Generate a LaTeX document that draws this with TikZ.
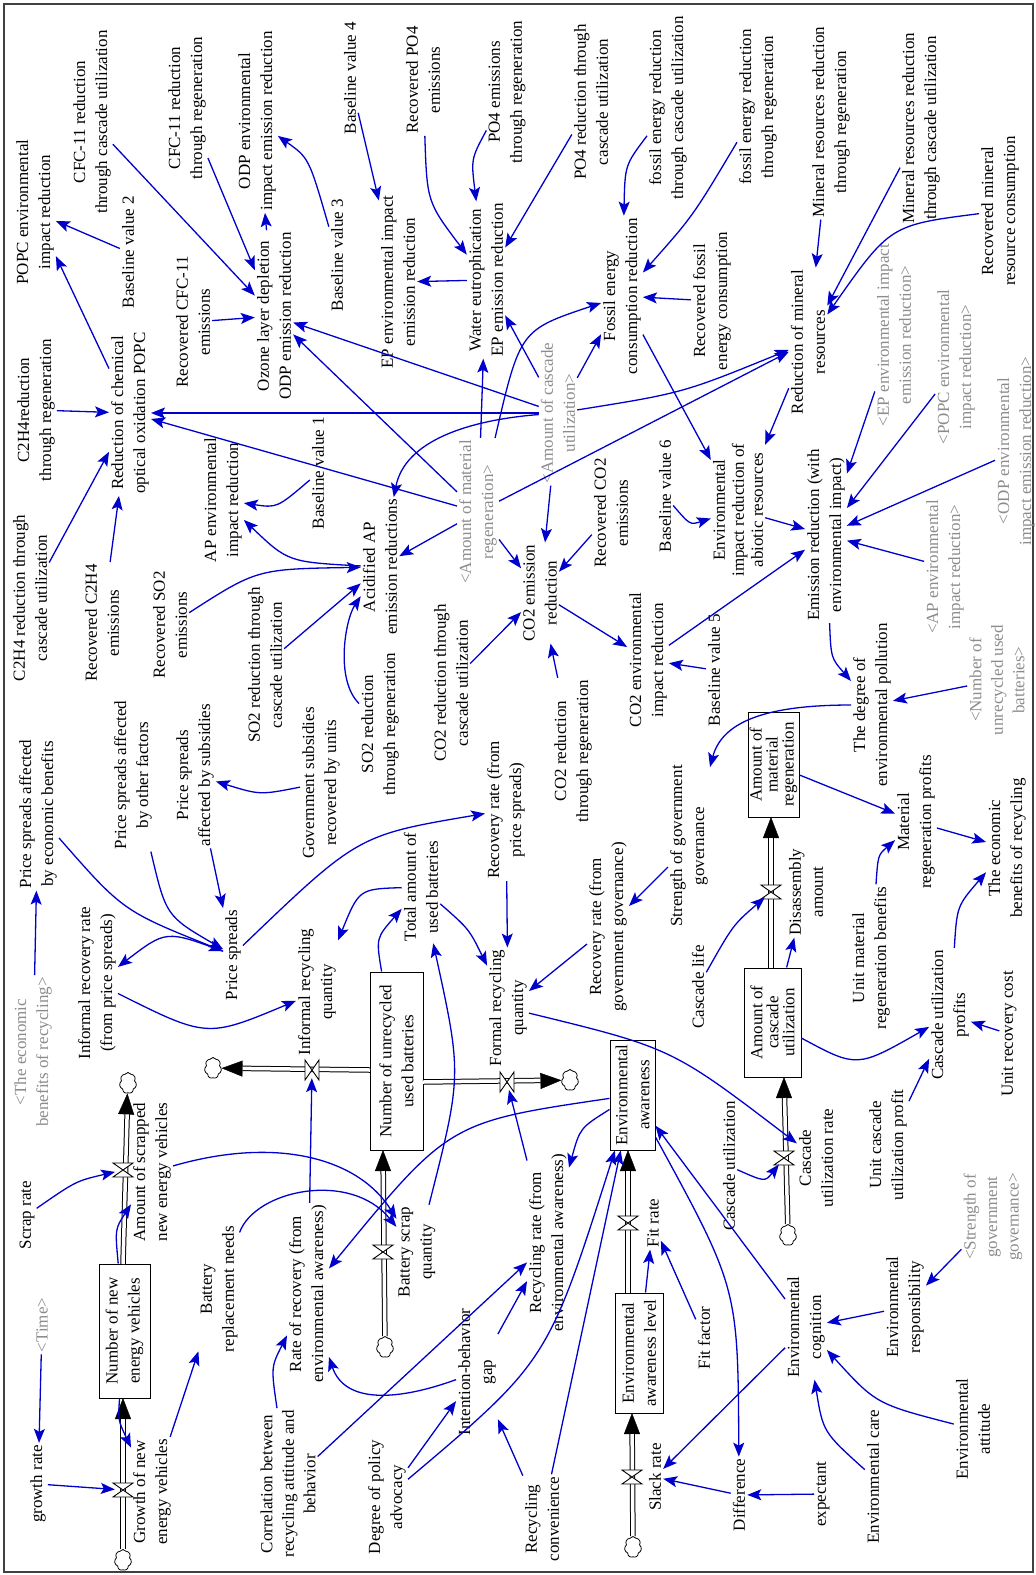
\documentclass[tikz,border=0pt]{standalone}
\usepackage{fontspec}
\setmainfont{Liberation Serif}
\usetikzlibrary{arrows.meta,shapes.symbols}
\definecolor{arrblue}{RGB}{0,0,205}
\definecolor{shadowgray}{RGB}{140,140,140}
\newcommand\fsz{\fontsize{17}{22}\selectfont}
\newcommand\fsm{\fontsize{17}{21.5}\selectfont}
\newcommand\fsa{\fontsize{17}{19}\selectfont}
\newcommand\fstk{\fontsize{17}{16}\selectfont}
\newcommand\vvalve[2]{\filldraw[fill=white,draw=black,line width=0.9pt] (#1-10,#2+7) -- (#1+10,#2+7) -- (#1-10,#2-7) -- (#1+10,#2-7) -- cycle;}
\newcommand\hvalve[2]{\filldraw[fill=white,draw=black,line width=0.9pt] (#1-7,#2+10) -- (#1+7,#2-10) -- (#1+7,#2+10) -- (#1-7,#2-10) -- cycle;}
\tikzset{
 lab/.style={rotate=90, align=center, inner sep=2pt, font=\fsz, text=black},
 shd/.style={lab, text=shadowgray},
 stock/.style={rotate=90, align=center, draw=black, line width=1pt, inner sep=1pt, font=\fsz},
 arr/.style={draw=arrblue, line width=1.3pt, -{Stealth[length=14pt,width=11pt,inset=3pt]}},
 pipeln/.style={draw=black, line width=1pt, double=white, double distance=3.5pt},
 ptip/.style={draw=black, line width=0.4pt, -{Triangle[length=21pt,width=16pt]}},
 cloudn/.style={cloud, cloud puffs=7, cloud puff arc=120, aspect=0.85, draw=black, line width=0.8pt, fill=white, minimum width=17pt, minimum height=21pt, inner sep=0pt},
 vnode/.style={circle, inner sep=0pt, minimum size=16pt}
}
\begin{document}
\begin{tikzpicture}[x=1pt,y=1pt]
\useasboundingbox (0,0) rectangle (1036,-1575);
\draw[line width=1.5pt, draw=black!75] (4,-4) rectangle (1033,-1572);

% ---------- top region ----------
\node[lab] (POPCenv) at (35,-212) {POPC environmental\\impact reduction};
\node[lab] (CFCcasc) at (92,-122) {CFC-11 reduction\\through cascade utilization};
\node[lab] (BVtwo) at (128,-252) {Baseline value 2};
\node[lab] (CFCreg) at (187,-108) {CFC-11 reduction\\through regeneration};
\node[lab] (ODPenv) at (257,-121) {ODP environmental\\impact emission reduction};
\node[lab] (BVthree) at (337,-255) {Baseline value 3};
\node[lab] (RecCFC) at (193,-322) {Recovered CFC-11\\emissions};
\node[lab] (Ozone) at (274,-316) {Ozone layer depletion\\ODP emission reduction};
\node[lab] (BVfour) at (350,-78) {Baseline value 4};
\node[lab] (RecPO) at (423,-80) {Recovered PO4\\emissions};
\node[lab] (POreg) at (507,-92) {PO4 emissions\\through regeneration};
\node[lab] (POcasc) at (591,-102) {PO4 reduction through\\cascade utilization};
\node[lab] (fosscasc) at (668,-108) {fossil energy reduction\\through cascade utilization};
\node[lab] (EPenv) at (398,-282) {EP environmental impact\\emission reduction};
\node[lab] (Water) at (486,-280) {Water eutrophication\\EP emission reduction};
\node[lab] (Fossil) at (622,-296) {Fossil energy\\consumption reduction};
\node[shd] (AC) at (558,-413) {<Amount of cascade\\utilization>};
\node[shd] (AM) at (478,-512) {<Amount of material\\regeneration>};
\node[lab] (fossreg) at (758,-107) {fossil energy reduction\\through regeneration};
\node[lab] (minreg) at (831,-122) {Mineral resources reduction\\through regeneration};
\node[lab] (mincasc) at (921,-128) {Mineral resources reduction\\through cascade utilization};
\node[lab] (recmin) at (1000,-211) {Recovered mineral\\resource consumption};
\node[lab] (recfoss) at (712,-301) {Recovered fossil\\energy consumption};
\node[lab] (Redmin) at (808,-342) {Reduction of mineral\\resources};
\node[shd] (gEP) at (894,-335) {<EP environmental impact\\emission reduction>};
\node[shd] (gPOPC) at (956,-367) {<POPC environmental\\impact reduction>};
\node[shd] (gODP) at (1016,-451) {<ODP environmental\\impact emission reduction>};
\node[lab, font=\fsa] (Envabi) at (738,-510) {Environmental\\impact reduction of\\abiotic resources};
\node[lab] (Emis) at (826,-535) {Emission reduction (with\\environmental impact)};
\node[shd] (gAP) at (945,-567) {<AP environmental\\impact reduction>};
\node[lab] (Degree) at (872,-705) {The degree of\\environmental pollution};
\node[shd, font=\fsm] (gNum) at (997,-680) {<Number of\\unrecycled used\\batteries>};
\node[lab] (BVsix) at (665,-496) {Baseline value 6};
\node[lab] (BVfive) at (714,-670) {Baseline value 5};

% ---------- left / middle ----------
\node[lab] (Ctwo) at (36,-410) {C2H4reduction\\through regeneration};
\node[lab] (Ctwocasc) at (30,-598) {C2H4 reduction through\\cascade utilization};
\node[lab] (RedPOPC) at (130,-413) {Reduction of chemical\\optical oxidation POPC};
\node[lab] (RecCtwo) at (102,-623) {Recovered C2H4\\emissions};
\node[lab] (RecSO) at (170,-625) {Recovered SO2\\emissions};
\node[lab] (APenv) at (223,-500) {AP environmental\\impact reduction};
\node[lab] (BVone) at (318,-473) {Baseline value 1};
\node[lab] (SOcasc) at (265,-665) {SO2 reduction through\\cascade utilization};
\node[lab] (AP) at (380,-567) {Acidified AP\\emission reductions};
\node[lab] (SOreg) at (380,-724) {SO2 reduction\\through regeneration};
\node[lab] (COcasc) at (451,-683) {CO2 reduction through\\cascade utilization};
\node[lab] (COem) at (540,-593) {CO2 emission\\reduction};
\node[lab] (RecCO) at (611,-513) {Recovered CO2\\emissions};
\node[lab] (COenv) at (648,-660) {CO2 environmental\\impact reduction};
\node[lab] (COreg) at (573,-751) {CO2 reduction\\through regeneration};
\node[lab] (RRps) at (506,-810) {Recovery rate (from\\price spreads)};
\node[lab] (PSeco) at (38,-814) {Price spreads affected\\by economic benefits};
\node[lab] (PSoth) at (133,-775) {Price spreads affected\\by other factors};
\node[lab] (PSsub) at (195,-775) {Price spreads\\affected by subsidies};
\node[lab] (Gov) at (321,-783) {Government subsidies\\recovered by units};
\node[shd] (gEco) at (33,-1052) {<The economic\\benefits of recycling>};
\node[lab] (IRR) at (97,-983) {Informal recovery rate\\(from price spreads)};
\node[lab] (PS) at (233,-955) {Price spreads};
\node[lab] (IRQ) at (317,-992) {Informal recycling\\quantity};
\node[lab] (Total) at (421,-887) {Total amount of\\used batteries};
\node[lab] (FRQ) at (508,-1008) {Formal recycling\\quantity};
\node[lab] (RRgov) at (608,-927) {Recovery rate (from\\government governance)};
\node[lab] (Strength) at (689,-846) {Strength of government\\governance};
\node[lab] (MRP) at (916,-822) {Material\\regeneration profits};
\node[lab] (Eco) at (1007,-848) {The economic\\benefits of recycling};
\node[lab] (Dis) at (806,-892) {Disassembly\\amount};
\node[lab] (Clife) at (698,-987) {Cascade life};
\node[lab] (UMRB) at (871,-958) {Unit material\\regeneration benefits};
\node[lab] (CUP) at (950,-1015) {Cascade utilization\\profits};
\node[lab] (URC) at (1009,-1034) {Unit recovery cost};
\node[lab] (UCUP) at (888,-1145) {Unit cascade\\utilization profit};
\node[lab] (CUR) at (816,-1158) {Cascade\\utilization rate};
\node[lab] (CU) at (729,-1166) {Cascade utilization};

% ---------- bottom ----------
\node[lab] (Scrap) at (27,-1215) {Scrap rate};
\node[shd] (Time) at (42,-1325) {<Time>};
\node[lab] (growth) at (38,-1484) {growth rate};
\node[lab] (GNEV) at (152,-1492) {Growth of new\\energy vehicles};
\node[lab] (ASNEV) at (152,-1172) {Amount of scrapped\\new energy vehicles};
\node[lab] (BRN) at (219,-1289) {Battery\\replacement needs};
\node[lab] (RoR) at (308,-1294) {Rate of recovery (from\\environmental awareness)};
\node[lab, font=\fsm] (Corr) at (288,-1484) {Correlation between\\recycling attitude and\\behavior};
\node[lab] (BSQ) at (417,-1252) {Battery scrap\\quantity};
\node[lab] (RRea) at (548,-1243) {Recycling rate (from\\environmental awareness)};
\node[lab] (IBG) at (477,-1372) {Intention-behavior\\gap};
\node[lab] (DPA) at (387,-1497) {Degree of policy\\advocacy};
\node[lab] (RC) at (542,-1519) {Recycling\\convenience};
\node[lab] (Fit) at (653,-1223) {Fit rate};
\node[lab] (Slack) at (655,-1477) {Slack rate};
\node[shd, font=\fsm] (gStr) at (993,-1217) {<Strength of\\government\\governance>};
\node[lab] (EResp) at (905,-1307) {Environmental\\responsibility};
\node[lab] (ECog) at (806,-1327) {Environmental\\cognition};
\node[lab] (FitF) at (704,-1338) {Fit factor};
\node[lab] (Diff) at (739,-1495) {Difference};
\node[lab] (Expect) at (823,-1494) {expectant};
\node[lab] (ECare) at (873,-1477) {Environmental care};
\node[lab] (EAtt) at (973,-1429) {Environmental\\attitude};

% ---------- stocks ----------
\node[stock, minimum width=134pt, minimum height=51pt] (NNEV) at (124.5,-1331) {Number of new\\energy vehicles};
\node[stock, minimum width=178pt, minimum height=53pt] (NUB) at (396.5,-1061) {Number of unrecycled\\used batteries};
\node[stock, minimum width=110pt, minimum height=45pt] (EA) at (632.5,-1095) {Environmental\\awareness};
\node[stock, minimum width=120pt, minimum height=48pt] (EAL) at (639,-1353) {Environmental\\awareness level};
\node[stock, font=\fstk, minimum width=109pt, minimum height=57pt] (ACU) at (772.5,-1022.5) {Amount of\\cascade\\utilization};
\node[stock, font=\fstk, minimum width=105pt, minimum height=51pt] (AMR) at (773.5,-764.5) {Amount of\\material\\regeneration};

% ---------- clouds ----------
\node[cloudn] (cA) at (123,-1560) {};
\node[cloudn] (cB) at (128,-1083) {};
\node[cloudn] (cC) at (213,-1068) {};
\node[cloudn] (cD) at (570,-1080) {};
\node[cloudn] (cE) at (385,-1347) {};
\node[cloudn] (cF) at (788,-1235) {};
\node[cloudn] (cG) at (633,-1547) {};

% ---------- valves (targets) ----------
\node[vnode] (vA) at (123,-1490) {};
\node[vnode] (vB) at (123,-1170) {};
\node[vnode] (vC) at (312,-1070) {};
\node[vnode] (vD) at (507,-1082) {};
\node[vnode] (vE) at (383,-1252) {};
\node[vnode] (vF) at (784,-1158) {};
\node[vnode] (vG) at (771,-892) {};
\node[vnode] (vH) at (628,-1223) {};
\node[vnode] (vI) at (632,-1477) {};

\coordinate (pA) at (123,-1398);
\coordinate (pB) at (123,-1264);
\coordinate (pC) at (370,-1070);
\coordinate (pD) at (423,-1082);
\coordinate (pE) at (383,-1150);
\coordinate (pF) at (784,-1077);
\coordinate (pGa) at (771,-968);
\coordinate (pGb) at (771,-817);
\coordinate (pHa) at (628,-1293);
\coordinate (pHb) at (628,-1150);
\coordinate (pI) at (632,-1413);

% ---------- pipes ----------
\draw[ptip] (vA) -- (pA); \draw[pipeln, shorten >=21pt] (cA) -- (pA);
\draw[ptip] (vB) -- (cB); \draw[pipeln, shorten >=21pt] (pB) -- (cB);
\draw[ptip] (vC) -- (cC); \draw[pipeln, shorten >=21pt] (pC) -- (cC);
\draw[ptip] (vD) -- (cD); \draw[pipeln, shorten >=21pt] (pD) -- (cD);
\draw[ptip] (vE) -- (pE); \draw[pipeln, shorten >=21pt] (cE) -- (pE);
\draw[ptip] (vF) -- (pF); \draw[pipeln, shorten >=21pt] (cF) -- (pF);
\draw[ptip] (vG) -- (pGb); \draw[pipeln, shorten >=21pt] (pGa) -- (pGb);
\draw[ptip] (vH) -- (pHb); \draw[pipeln, shorten >=21pt] (pHa) -- (pHb);
\draw[ptip] (vI) -- (pI); \draw[pipeln, shorten >=21pt] (cG) -- (pI);

\vvalve{123}{-1490}
\vvalve{123}{-1170}
\hvalve{312}{-1070}
\hvalve{507}{-1082}
\vvalve{383}{-1252}
\vvalve{784}{-1158}
\vvalve{771}{-892}
\vvalve{628}{-1223}
\vvalve{632}{-1477}

% ---------- arrows: top ----------
\draw[arr] (BVtwo) -- (POPCenv);
\draw[arr] (RedPOPC) -- (POPCenv);
\draw[arr] (CFCcasc) -- (Ozone);
\draw[arr] (CFCreg) -- (Ozone);
\draw[arr] (Ozone) -- (ODPenv);
\draw[arr] (BVthree) .. controls (309,-158) .. (ODPenv);
\draw[arr] (RecCFC) -- (Ozone);
\draw[arr] (AC) -- (Ozone);
\draw[arr] (AM) -- (Ozone);
\draw[arr] (BVfour) -- (EPenv);
\draw[arr] (RecPO) .. controls (427,-202) .. (Water);
\draw[arr] (POreg) .. controls (471,-159) .. (Water);
\draw[arr] (POcasc) -- (Water);
\draw[arr] (Water) -- (EPenv);
\draw[arr] (fosscasc) .. controls (625,-165) .. (Fossil);
\draw[arr] (fossreg) .. controls (693,-216) .. (Fossil);
\draw[arr] (recfoss) -- (Fossil);
\draw[arr] (AC) -- (Water);
\draw[arr] (AC) -- (Fossil);
\draw[arr] (AM) .. controls (520,-330) .. (Fossil);
\draw[arr] (AM) -- (Water);
\draw[arr] (minreg) -- (Redmin);
\draw[arr] (mincasc) -- (Redmin);
\draw[arr] (recmin) .. controls (890,-225) .. (Redmin);
\draw[arr] (AC) .. controls (683,-393) .. (Redmin);
\draw[arr] (AM) -- (Redmin);
\draw[arr] (Redmin) -- (Envabi);
\draw[arr] (Fossil) -- (Envabi);
\draw[arr] (BVsix) .. controls (690,-525) .. (Envabi);
\draw[arr] (Envabi) -- (Emis);
\draw[arr] (COenv) -- (Emis);
\draw[arr] (gEP) -- (Emis);
\draw[arr] (gPOPC) -- (Emis);
\draw[arr] (gODP) -- (Emis);
\draw[arr] (gAP) -- (Emis);
\draw[arr] (Emis) .. controls (831,-658) .. (Degree);
\draw[arr] (gNum) -- (Degree);
\draw[arr] (Degree) .. controls (765,-705) and (722,-722) .. (Strength);
\draw[arr] (AMR) -- (MRP);
\draw[arr] (MRP) -- (Eco);
\draw[arr] (UMRB) .. controls (878,-855) .. (MRP);
\draw[arr] (Clife) .. controls (733,-925) .. (vG);
\draw[arr] (ACU) -- (Dis);
\draw[arr] (ACU) .. controls (857,-1068) .. (CUP);
\draw[arr] (CUP) .. controls (957,-906) .. (Eco);
\draw[arr] (URC) -- (CUP);
\draw[arr] (UCUP) -- (CUP);
\draw[arr] (FRQ) .. controls (672,-1048) .. (CUR);
\draw[arr] (CU) .. controls (765,-1182) .. (vF);

% ---------- arrows: AP / CO2 / POPC ----------
\draw[arr] (BVone) .. controls (277,-508) .. (APenv);
\draw[arr] (AP) .. controls (288,-562) .. (APenv);
\draw[arr] (RecSO) .. controls (257,-569) .. (AP);
\draw[arr] (SOcasc) -- (AP);
\draw[arr] (SOreg) .. controls (335,-680) and (345,-620) .. (AP);
\draw[arr] (AC) .. controls (470,-420) and (405,-440) .. (AP);
\draw[arr] (AM) -- (AP);
\draw[arr] (AM) -- (COem);
\draw[arr] (AC) -- (COem);
\draw[arr] (RecCO) -- (COem);
\draw[arr] (COcasc) -- (COem);
\draw[arr] (COreg) -- (COem);
\draw[arr] (COem) -- (COenv);
\draw[arr] (BVfive) -- (COenv);
\draw[arr] (AC) -- (RedPOPC);
\draw[arr] (AM) -- (RedPOPC);
\draw[arr] (Ctwo) -- (RedPOPC);
\draw[arr] (Ctwocasc) -- (RedPOPC);
\draw[arr] (RecCtwo) -- (RedPOPC);

% ---------- arrows: price spreads / recycling ----------
\draw[arr] (PSeco) .. controls (123,-911) .. (PS);
\draw[arr] (PSoth) .. controls (166,-916) .. (PS);
\draw[arr] (PSsub) -- (PS);
\draw[arr] (Gov) .. controls (260,-795) .. (PSsub);
\draw[arr] (PS) .. controls (166,-930) .. (IRR);
\draw[arr] (IRR) .. controls (207,-1038) .. (IRQ);
\draw[arr] (gEco) -- (PSeco);
\draw[arr] (RRps) -- (FRQ);
\draw[arr] (Total) .. controls (469,-929) .. (FRQ);
\draw[arr] (RRgov) -- (FRQ);
\draw[arr] (Strength) -- (RRgov);
\draw[arr] (NUB) .. controls (376,-938) .. (Total);
\draw[arr] (PS) .. controls (358,-835) .. (RRps);
\draw[arr] (Total) .. controls (359,-889) .. (IRQ);
\draw[arr] (BSQ) .. controls (462,-1075) .. (Total);
\draw[arr] (EA) .. controls (449,-1122) .. (RoR);
\draw[arr] (EA) .. controls (580,-1128) .. (RRea);
\draw[arr] (RRea) -- (vD);

% ---------- arrows: bottom ----------
\draw[arr] (Scrap) .. controls (76,-1181) .. (vB);
\draw[arr] (Time) -- (growth);
\draw[arr] (growth) -- (vA);
\draw[arr] (NNEV) .. controls (118,-1420) .. (GNEV);
\draw[arr] (NNEV) .. controls (115,-1229) .. (ASNEV);
\draw[arr] (GNEV) -- (BRN);
\draw[arr] (ASNEV) .. controls (280,-1135) and (360,-1160) .. (BSQ);
\draw[arr] (BRN) .. controls (255,-1190) and (350,-1170) .. (BSQ);
\draw[arr] (RoR) -- (vC);
\draw[arr] (IBG) .. controls (400,-1400) and (345,-1405) .. (RoR);
\draw[arr] (Corr) .. controls (271,-1367) .. (RoR);
\draw[arr] (Corr) -- (RRea);
\draw[arr] (DPA) -- (IBG);
\draw[arr] (DPA) .. controls (548,-1361) .. (EA);
\draw[arr] (RC) -- (IBG);
\draw[arr] (RC) -- (EA);
\draw[arr] (IBG) -- (RRea);
\draw[arr] (EAL) -- (Fit);
\draw[arr] (FitF) -- (Fit);
\draw[arr] (ECog) -- (Slack);
\draw[arr] (Diff) -- (Slack);
\draw[arr] (gStr) -- (EResp);
\draw[arr] (EResp) -- (ECog);
\draw[arr] (EAtt) .. controls (876,-1404) .. (ECog);
\draw[arr] (ECare) .. controls (823,-1432) .. (ECog);
\draw[arr] (Expect) -- (Diff);
\draw[arr] (ECog) -- (EA);
\draw[arr] (EA) .. controls (738,-1288) .. (Diff);
\end{tikzpicture}
\end{document}
